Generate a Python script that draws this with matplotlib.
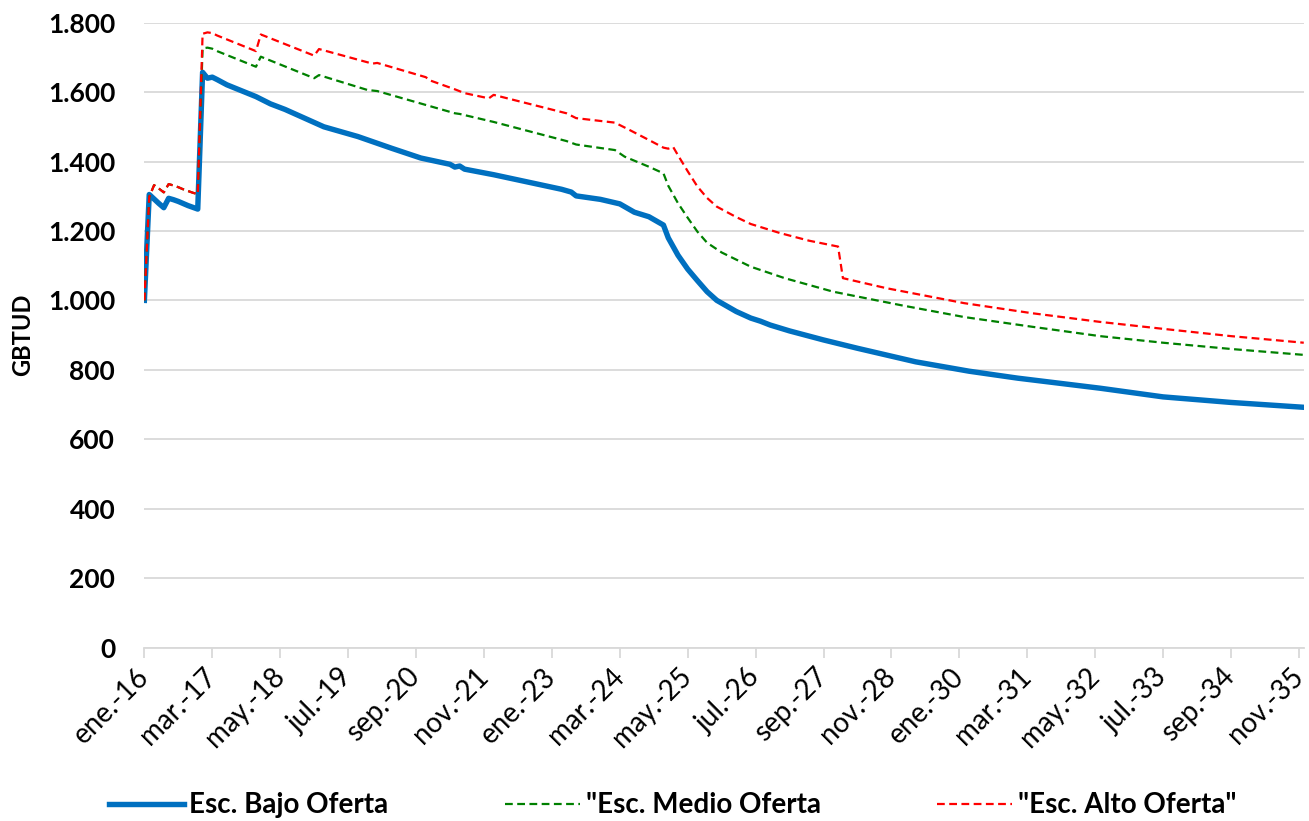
import matplotlib
matplotlib.use("Agg")
import matplotlib.pyplot as plt
from matplotlib.ticker import FuncFormatter, MultipleLocator

plt.rcParams['font.family'] = ['Lato', 'DejaVu Sans']

# monthly series (GBTUD)
bajo_mes = ["2016-01", "2016-02", "2016-03", "2016-04", "2016-05", "2016-06", "2016-07", "2016-08",
            "2016-09", "2016-10", "2016-11", "2016-12", "2017-01", "2017-02", "2017-03", "2017-04",
            "2017-06", "2017-09", "2017-12", "2018-03", "2018-06", "2018-10", "2019-02", "2019-09",
            "2020-04", "2020-10", "2021-04", "2021-05", "2021-06", "2021-07", "2022-01", "2022-09",
            "2023-03", "2023-05", "2023-06", "2023-11", "2024-03", "2024-05", "2024-06", "2024-09",
            "2024-12", "2025-01", "2025-03", "2025-05", "2025-07", "2025-09", "2025-11", "2026-01",
            "2026-03", "2026-06", "2026-08", "2026-10", "2027-02", "2027-09", "2028-04", "2029-04",
            "2030-03", "2031-01", "2032-06", "2033-07", "2034-09", "2035-12"]
bajo_val = [1000, 1305, 1292, 1279, 1267, 1294, 1290, 1285,
            1279, 1273, 1268, 1263, 1657, 1640, 1643, 1636,
            1621, 1604, 1587, 1566, 1550, 1525, 1500, 1472,
            1438, 1410, 1392, 1384, 1387, 1378, 1362, 1338,
            1320, 1312, 1301, 1291, 1278, 1262, 1254, 1241,
            1217, 1180, 1130, 1090, 1057, 1025, 1000, 984,
            968, 949, 940, 929, 912, 886, 862, 823,
            796, 776, 747, 722, 706, 692]

medio_mes = ["2016-01", "2016-02", "2016-03", "2016-04", "2016-05", "2016-06", "2016-07", "2016-08",
             "2016-09", "2016-10", "2016-11", "2016-12", "2017-01", "2017-02", "2017-03", "2017-04",
             "2017-12", "2018-01", "2018-12", "2019-01", "2019-11", "2020-01", "2021-05", "2021-06",
             "2022-01", "2023-04", "2023-06", "2024-02", "2024-04", "2024-09", "2024-12", "2025-01",
             "2025-03", "2025-05", "2025-07", "2025-09", "2025-12", "2026-06", "2027-01", "2027-11",
             "2029-01", "2030-02", "2031-04", "2032-06", "2033-07", "2034-09", "2035-12"]
medio_val = [1000, 1298, 1332, 1322, 1311, 1335, 1331, 1326,
             1320, 1315, 1310, 1306, 1726, 1728, 1725, 1718,
             1673, 1702, 1640, 1649, 1606, 1603, 1539, 1537,
             1514, 1459, 1449, 1433, 1414, 1385, 1366, 1330,
             1280, 1238, 1198, 1166, 1138, 1097, 1064, 1025,
             986, 952, 924, 897, 878, 860, 843]

alto_mes = ["2016-01", "2016-02", "2016-03", "2016-04", "2016-05", "2016-06", "2016-07", "2016-08",
            "2016-09", "2016-10", "2016-11", "2016-12", "2017-01", "2017-02", "2017-03", "2017-04",
            "2017-12", "2018-01", "2018-12", "2019-01", "2019-12", "2020-01", "2020-11", "2020-12",
            "2021-05", "2021-07", "2021-12", "2022-01", "2023-04", "2023-06", "2024-02", "2024-03",
            "2024-05", "2024-09", "2024-12", "2025-01", "2025-02", "2025-03", "2025-04", "2025-05",
            "2025-06", "2025-07", "2025-09", "2025-11", "2026-01", "2026-03", "2026-06", "2026-12",
            "2027-06", "2027-12", "2028-01", "2028-10", "2030-02", "2031-04", "2032-06", "2033-07",
            "2034-09", "2035-12"]
alto_val = [1000, 1298, 1332, 1322, 1311, 1335, 1331, 1326,
            1320, 1315, 1310, 1306, 1768, 1772, 1770, 1763,
            1718, 1766, 1705, 1724, 1682, 1684, 1643, 1633,
            1608, 1597, 1582, 1592, 1539, 1525, 1512, 1505,
            1491, 1462, 1440, 1437, 1442, 1418, 1395, 1372,
            1350, 1328, 1295, 1270, 1255, 1240, 1220, 1194,
            1172, 1155, 1064, 1035, 992, 963, 938, 918,
            897, 878]

tick_mes = ["2016-01", "2017-03", "2018-05", "2019-07", "2020-09", "2021-11", "2023-01", "2024-03",
            "2025-05", "2026-07", "2027-09", "2028-11", "2030-01", "2031-03", "2032-05", "2033-07",
            "2034-09", "2035-11"]
tick_labels = ["ene.-16", "mar.-17", "may.-18", "jul.-19", "sep.-20", "nov.-21", "ene.-23", "mar.-24",
               "may.-25", "jul.-26", "sep.-27", "nov.-28", "ene.-30", "mar.-31", "may.-32", "jul.-33",
               "sep.-34", "nov.-35"]


def month_index(s):
    y, m = s.split('-')
    return (int(y) - 2016) * 12 + int(m) - 1


fig = plt.figure(figsize=(13.09, 8.21), dpi=100)
ax = fig.add_axes([0.1103, 0.2113, 0.996 - 0.1103, 0.9724 - 0.2113])

ax.plot([month_index(s) for s in bajo_mes], bajo_val, color='#0070C0', lw=3.9,
        solid_joinstyle='round', label='Esc. Bajo Oferta', zorder=3)
ax.plot([month_index(s) for s in medio_mes], medio_val, color='#008000', lw=1.6,
        dashes=(3.5, 2), label='"Esc. Medio Oferta', zorder=4)
ax.plot([month_index(s) for s in alto_mes], alto_val, color='#FF0000', lw=1.6,
        dashes=(3.5, 2), label='"Esc. Alto Oferta"', zorder=5)

ax.set_xlim(0, 239)
ax.set_ylim(0, 1800)
ax.yaxis.set_major_locator(MultipleLocator(200))
ax.yaxis.set_major_formatter(FuncFormatter(lambda v, p: f"{int(v):,}".replace(',', '.')))
ax.grid(axis='y', color='#d9d9d9', lw=1.3)
ax.set_axisbelow(True)
for side in ['top', 'right', 'left']:
    ax.spines[side].set_visible(False)
ax.spines['bottom'].set_color('#d9d9d9')
ax.spines['bottom'].set_linewidth(1.3)

ax.set_xticks([month_index(s) for s in tick_mes])
ax.set_xticklabels(tick_labels, rotation=45, ha='right', va='center', rotation_mode='anchor',
                   fontsize=20)
ax.tick_params(axis='x', length=7, width=1.3, color='#d9d9d9', pad=11)
ax.tick_params(axis='y', length=0, pad=21, labelsize=19)
for lbl in ax.get_yticklabels():
    lbl.set_fontweight('bold')

ax.set_ylabel('GBTUD', fontsize=17, fontweight='bold', labelpad=10)

leg = fig.legend(loc='center left', bbox_to_anchor=(0.064, 0.019), ncol=3, frameon=False,
                 handlelength=2.7, handletextpad=0.2, columnspacing=4.2,
                 prop={'weight': 'bold', 'size': 20})

fig.savefig('out.png', dpi=100)
